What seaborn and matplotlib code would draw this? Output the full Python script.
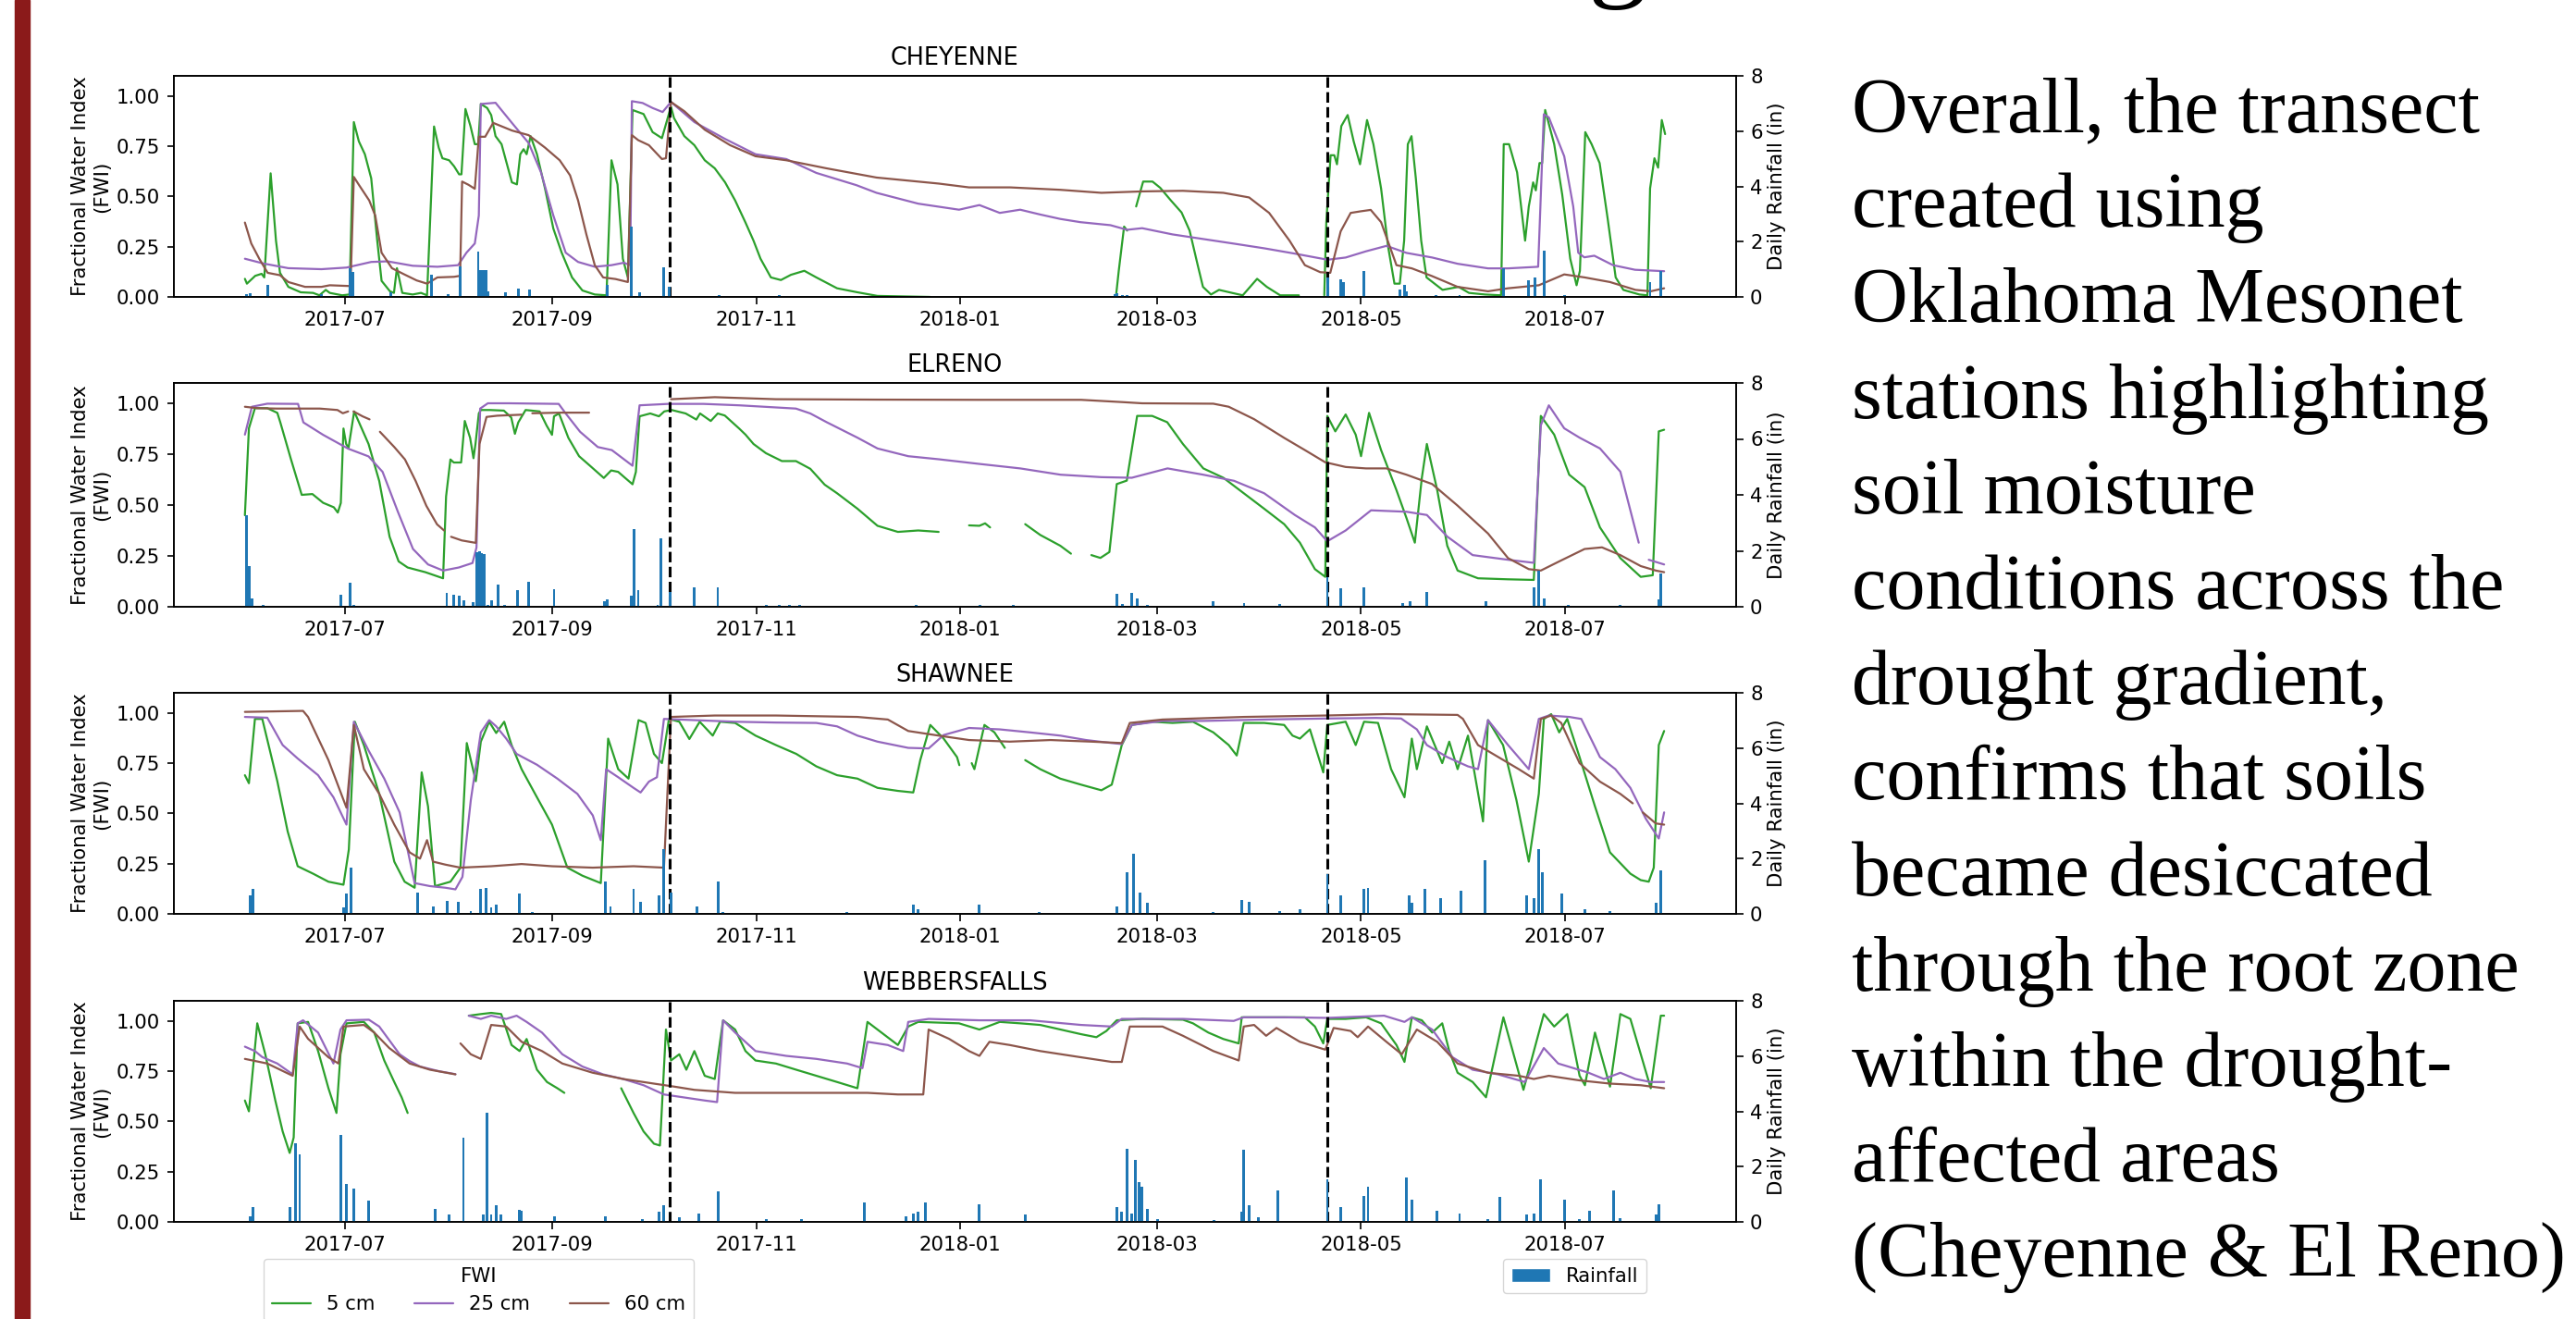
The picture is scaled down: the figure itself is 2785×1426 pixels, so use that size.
# ============================================
# Soil moisture transect - Oklahoma Mesonet
# FWI at 3 depths + daily rainfall, 4 stations
# ============================================

import pandas as pd
import matplotlib
matplotlib.use('Agg')
import matplotlib.pyplot as plt
import matplotlib.dates as mdates
from matplotlib.lines import Line2D
from matplotlib.patches import Patch, Rectangle
from matplotlib.ticker import FormatStrFormatter
import seaborn as sns

# day 0 of every series
START = pd.Timestamp('2017-06-01')

STATIONS = ['CHEYENNE', 'ELRENO', 'SHAWNEE', 'WEBBERSFALLS']
DEPTHS = ['5 cm', '25 cm', '60 cm']
DEPTH_COLORS = ['#2ca02c', '#9467bd', '#8c564b']
RAIN_COLOR = '#1f77b4'
DRY_SPELL = ['2017-10-06', '2018-04-21']

# (day since START, FWI) - None marks a gap in the record
CHEYENNE_5 = [(0, .09), (0.6, .066), (3.1, .105), (5, .115), (5.8, .097), (7.7, .615), (9.3, .28), (10.5, .12),
              (13, .05), (16.7, .023), (20.4, .02), (22.3, .008), (24.2, .035), (25.4, .02), (29.1, .008),
              (31.3, .012), (32.6, .87), (34.1, .774), (35.9, .71), (37.8, .59), (39.6, .28), (40.9, .08),
              (43.4, .028), (44.6, .02), (45.5, .143), (47.1, .02), (50.2, .012), (52.7, .02), (54.5, .008),
              (56.6, .848), (58, .743), (59.1, .69), (61.1, .68), (62.6, .65), (64.1, .61), (64.8, .61),
              (66, .935), (67.5, .85), (68.8, .76), (69.8, .76), (70.6, .96), (72.5, .94), (73.7, .905),
              (75, .80), (76.8, .76), (78.1, .68), (79.9, .57), (81.4, .56), (82.4, .71), (83.4, .735),
              (84.3, .71), (85.5, .80), (87.4, .71), (89.8, .54), (92.3, .34), (94.8, .22), (97.9, .097),
              (101, .032), (104.7, .012), (108.2, .008), (109.7, .68), (111.5, .56), (113.1, .19),
              (114.6, .097), (116, .93), (119.3, .91), (122, .82), (124.8, .79), (127.5, .947), (128.4, .89),
              (131.5, .80), (134.5, .755), (137.6, .68), (140.6, .64), (143.7, .57), (146.7, .48),
              (149.8, .37), (152.2, .28), (154.3, .19), (157.4, .097), (160.4, .084), (163.4, .11),
              (167.4, .13), (171, .097), (177.2, .043), (183.3, .023), (189.3, .005), (205, .0), None,
              (260.7, .008), (261.5, .13), (263.1, .35), (264, .33), None,
              (266.7, .45), (268.8, .574), (271.6, .574), (273.9, .543), (277.1, .48), (280.3, .42),
              (282.7, .33), (285.1, .16), (286.7, .05), (289.1, .012), (291.5, .035), (295.4, .02),
              (298.6, .008), (302.9, .09), (305.8, .05), (309.8, .008), (315.4, .008), None,
              (323, .008), (323.6, .37), (324.9, .705), (326, .705), (326.8, .66), (328.1, .85), (330, .905),
              (331.8, .774), (333.7, .66), (335.8, .88), (337.7, .76), (340, .54), (342.1, .25), (344, .066),
              (345.6, .066), (346.9, .28), (348, .76), (349.1, .80), (350.4, .59), (352, .28), (353.6, .097),
              (356, .066), (358.4, .035), (363.2, .05), (366.3, .02), (371.1, .012), (375.9, .008),
              (376.7, .76), (378.3, .76), (380.7, .62), (383.1, .28), (384.2, .45), (385.5, .57), (386.3, .53),
              (387.4, .666), (388.2, .666), (389.1, .93), (391.8, .76), (394.2, .51), (396.6, .19),
              (398.5, .058), (399.5, .13), (401.1, .82), (403, .76), (405.4, .666), (407.8, .39),
              (410.2, .097), (412.5, .035), (417.3, .012), (419.7, .008), (420.5, .54), (421.8, .69),
              (422.9, .643), (424, .88), (425, .81)]
CHEYENNE_25 = [(0, .19), (5.6, .166), (13, .143), (22.9, .138), (30.4, .146), (37.8, .174), (42.7, .177),
               (50.2, .155), (57.6, .15), (63.8, .158), (66.3, .22), (68.8, .266), (70, .405), (70.6, .96),
               (75, .966), (79.9, .866), (84.9, .766), (88.6, .62), (92.3, .405), (96, .22), (99.7, .174),
               (104.7, .15), (109.7, .158), (113.4, .17), (115.3, .158), (115.8, .974), (119, .965),
               (122, .94), (125, .92), (127.5, .97), (134.5, .87), (143.7, .786), (152.8, .71), (162, .686),
               (171, .617), (183, .556), (189, .518), (201.5, .464), (213.7, .434), (219.8, .457),
               (225.9, .418), (232, .434), (238, .41), (244, .388), (250, .372), (259, .357), (264, .334),
               (268.5, .342), (277.6, .311), (286.8, .288), (296, .265), (305, .242), (314, .216),
               (324, .185), (329.4, .196), (335.5, .227), (341.6, .254), (347.6, .219), (355.3, .196),
               (362.9, .165), (372, .142), (378, .142), (387, .15), (388.7, .909), (390.2, .893),
               (394.8, .70), (397.5, .45), (399, .22), (400.8, .197), (403.8, .205), (409.4, .158),
               (416, .135), (424.7, .128)]
CHEYENNE_60 = [(0, .37), (1.9, .266), (4.3, .19), (6.8, .12), (10.5, .108), (13, .074), (18, .05), (22.9, .05),
               (25.4, .058), (31.6, .054), (32.6, .597), (34.1, .558), (37.2, .48), (39, .405), (40.9, .22),
               (44, .143), (47.7, .112), (51.4, .082), (54.5, .066), (57.6, .097), (62.6, .10), (64.4, .105),
               (65, .574), (66.9, .558), (68.8, .538), (70, .797), (71.9, .797), (74.3, .866), (79.9, .828),
               (84.9, .805), (89.8, .743), (94.2, .68), (97.3, .605), (99.7, .48), (102.2, .31),
               (104.7, .158), (107.2, .097), (110.9, .089), (114.6, .074), (115.8, .805), (117.7, .78),
               (120.9, .755), (124.8, .686), (126, .69), (127.5, .97), (131.5, .924), (137.6, .832),
               (145.2, .755), (152.8, .70), (162, .68), (174, .64), (189, .594), (207.6, .564),
               (216.7, .545), (229, .545), (244, .533), (256.3, .518), (268.5, .525), (280.7, .528),
               (292.8, .518), (300.5, .495), (306.5, .418), (312.6, .28), (317.2, .158), (321.8, .123),
               (324.8, .12), (327.9, .326), (330.9, .418), (333.9, .426), (336.9, .433), (340, .372),
               (344.6, .158), (349.2, .142), (355.2, .104), (362.9, .05), (372, .028), (378, .043),
               (387.2, .058), (394.8, .112), (400.9, .097), (408.5, .074), (416.1, .035), (420.7, .028),
               (424.7, .043)]

ELRENO_5 = [(0, .45), (1.2, .877), (3, .976), (6.7, .976), (9.7, .953), (10.6, .906), (13.8, .724), (17, .55),
            (20.2, .554), (23.4, .511), (26.6, .489), (27.8, .463), (28.7, .51), (29.5, .876), (30.3, .80),
            (31, .78), (32.7, .96), (37, .80), (40.2, .618), (43.3, .344), (46, .223), (48.7, .193), (54, .17),
            (59.3, .14), (60.2, .542), (61.5, .724), (62.5, .709), (64.7, .709), (65.8, .913), (67.4, .83),
            (68.4, .73), (69, .80), (70, .95), (70.6, .967), (73.3, .967), (77.5, .964), (79.7, .93),
            (80.8, .85), (81.8, .906), (84, .967), (88.2, .96), (90.3, .89), (91.9, .845), (92.5, .936),
            (94, .95), (96.8, .83), (100, .74), (103.2, .694), (107.4, .633), (109.6, .67), (111.7, .663),
            (113.8, .633), (116, .602), (117, .663), (118.1, .936), (121.3, .95), (123.9, .936),
            (125.5, .96), (127.7, .967), (131.9, .95), (135.1, .92), (136.2, .95), (139.4, .913),
            (141.5, .95), (143.6, .94), (147.9, .876), (149.8, .846), (152.2, .80), (155.9, .755),
            (160.7, .716), (164.9, .716), (169.2, .678), (173.5, .60), (177.2, .558), (183.3, .482),
            (189.3, .398), (195.4, .368), (201.5, .375), (207.6, .368), None,
            (216.7, .40), (219.8, .398), (221.5, .41), (223, .39), None,
            (233.5, .406), (238, .353), (244, .30), (247.2, .261), None,
            (253.3, .254), (256, .24), (258.7, .269), (260.9, .603), (263.9, .62), (267, .938),
            (271.5, .938), (276, .907), (280.7, .80), (286.8, .68), (292.8, .634), (298.9, .558),
            (305, .482), (311, .406), (315.7, .315), (320.2, .185), (323.3, .147), (323.9, .938),
            (326.3, .862), (329.4, .945), (332.4, .846), (334, .74), (336.4, .953), (340, .77),
            (344.6, .573), (347.6, .436), (350.1, .315), (352.2, .634), (353.7, .80), (356.8, .573),
            (359.8, .30), (362.9, .178), (369, .14), (378, .135), (385.7, .132), (387.8, .938),
            (391.8, .846), (396.3, .649), (400.9, .588), (405.5, .39), (411.6, .239), (417.7, .147),
            (421.3, .155), (423.1, .862), (424.7, .87)]
ELRENO_25 = [(0, .846), (2.1, .983), (6.7, .998), (15.9, .997), (17.5, .906), (23.4, .845), (30.9, .777),
             (37, .739), (41.2, .663), (45.8, .466), (50.3, .284), (54.8, .208), (59.3, .178), (64, .193),
             (68.1, .215), (69.3, .291), (70.4, .974), (72.7, 1.0), (79, 1.0), (93.9, .997), (96, .95),
             (100.3, .86), (105.6, .785), (109.8, .77), (116, .693), (118.1, .99), (126.6, .997),
             (137.2, .997), (147.9, .99), (164.9, .974), (169.2, .95), (174.1, .907), (183.3, .831),
             (189.3, .778), (198.5, .74), (207.6, .725), (219.8, .702), (232, .68), (244.1, .649),
             (256.3, .637), (265.4, .634), (276.1, .68), (286.8, .649), (296, .619), (305, .558),
             (314.2, .451), (320.2, .39), (323.9, .322), (329.4, .375), (337, .474), (347.6, .467),
             (353.7, .451), (359.8, .345), (367.4, .254), (378, .231), (385.7, .216), (387.8, .892),
             (390.2, .99), (394.8, .877), (399.4, .831), (405.5, .778), (411.6, .664), (417.1, .315), None,
             (420.1, .231), (424.7, .208)]
ELRENO_60 = [(0, .983), (3.7, .976), (9.5, .974), (22.4, .974), (27.7, .967), (29.3, .951), (30.9, .96), None,
             (32.5, .96), (35.2, .936), (37.3, .921), None,
             (40.4, .86), (44.7, .785), (47.9, .724), (51.1, .618), (54.3, .496), (57.5, .405), (59.6, .375),
             None, (61.7, .344), (64.9, .326), (69.1, .314), (70.2, .80), (72.3, .933), (75.5, .939),
             (82.8, .944), None, (86, .951), (94.5, .954), (103, .954), None,
             (127.5, 1.02), (140.6, 1.03), (158.9, 1.02), (189.3, 1.018), (219.8, 1.017), (250.2, 1.017),
             (262.4, 1.006), (268.5, 1.0), (289.8, .998), (294.4, .983), (302, .922), (311, .83),
             (317.2, .77), (323.3, .71), (329.4, .687), (335.5, .68), (341.6, .68), (347.6, .649),
             (355.3, .603), (362.9, .497), (372, .36), (378, .239), (384.2, .185), (387.8, .178),
             (393.3, .223), (400.9, .284), (406.1, .292), (411.6, .254), (417.7, .20), (422.2, .178),
             (424.7, .17)]

SHAWNEE_5 = [(0, .69), (1.2, .65), (3, .97), (5.2, .97), (9.7, .66), (12.8, .41), (15.8, .237), (20.4, .20),
             (25, .16), (29.5, .145), (31.1, .32), (32.9, .956), (35.6, .84), (40.2, .597), (44.7, .26),
             (47.8, .16), (50.8, .13), (52.9, .704), (54.8, .535), (56.9, .138), (61.5, .16), (64.5, .23),
             (66.4, .85), (69.1, .66), (70.6, .857), (73.1, .956), (75.2, .90), (77.6, .956), (79.8, .84),
             (82.8, .72), (87.4, .58), (91.9, .444), (96.5, .23), (101, .19), (106.5, .153), (108.7, .872),
             (111.7, .72), (114.8, .673), (117.8, .964), (119.9, .95), (122.4, .796), (124.8, .75),
             (126.9, .97), (130, .956), (133, .87), (136.1, .956), (140, .887), (142.2, .956), (146.7, .95),
             (152.8, .887), (158.9, .84), (165, .796), (171, .734), (177.2, .69), (183.3, .673),
             (189.3, .627), (195.4, .612), (200, .604), (202.1, .765), (205.1, .94), (209.1, .872),
             (213.1, .78), (213.8, .74), None,
             (217.5, .75), (218.3, .72), (221.3, .94), (224.3, .903), (227.4, .826), None,
             (233.5, .765), (238, .72), (244, .673), (250.2, .643), (256.3, .615), (259.4, .643),
             (262.4, .84), (265.4, .94), (271.5, .956), (277.6, .95), (283.7, .956), (289.8, .903),
             (294.4, .84), (296.8, .788), (298.9, .95), (305, .95), (311, .94), (313.5, .887), (315.7, .872),
             (318.7, .918), (322.7, .704), (323.9, .94), (329.4, .956), (332.4, .84), (334.9, .956),
             (339.1, .95), (343, .72), (347, .58), (349.2, .872), (350.7, .72), (353.7, .933), (358.3, .75),
             (360.4, .857), (362.9, .72), (366, .887), (370.5, .46), (372, .964), (376.5, .84),
             (380.5, .566), (384.2, .26), (387.2, .597), (388.7, .97), (390.9, .994), (393.3, .903),
             (395.7, .97), (399.4, .78), (404, .535), (408.5, .306), (414.6, .20), (417.7, .168),
             (420.1, .16), (421.6, .23), (423.1, .84), (424.7, .91)]
SHAWNEE_25 = [(0, .98), (6.7, .976), (11.3, .84), (15.8, .773), (21.9, .69), (26.5, .58), (30.4, .444),
              (32.6, .956), (37.1, .81), (41.7, .673), (46.3, .505), (50.8, .153), (55.4, .138), (60, .13),
              (63, .122), (65.1, .184), (67.6, .566), (70.6, .903), (73.1, .964), (75.2, .933), (78.2, .872),
              (81.3, .796), (87.4, .742), (93.5, .673), (99.5, .597), (104.1, .49), (106.5, .367),
              (108.1, .72), (111.7, .68), (116.3, .627), (118.4, .604), (120.9, .658), (123.3, .68),
              (125.4, .97), (134.5, .964), (146.7, .956), (158.9, .952), (171, .95), (177.2, .933),
              (183.3, .887), (189.3, .857), (198.5, .826), (204.6, .823), (209.1, .89), (216.7, .925),
              (225.9, .918), (235, .903), (244, .887), (251.7, .865), (259.4, .85), (262.4, .845),
              (265.4, .94), (274.6, .96), (286.8, .96), (305, .967), (323.3, .972), (338.5, .975),
              (346, .972), (350.7, .918), (353.7, .84), (359.8, .78), (366, .734), (369, .72), (372, .964),
              (378, .84), (384.2, .72), (387.2, .97), (390.2, .987), (396.3, .98), (399.9, .97),
              (405.5, .78), (410.1, .72), (414.6, .627), (419.2, .474), (423.1, .375), (424.7, .505)]
SHAWNEE_60 = [(0, 1.005), (17.4, 1.01), (18.9, .98), (25, .765), (30.4, .528), (32.6, .94), (35.6, .72),
              (40.2, .597), (44.7, .444), (49.3, .306), (52.4, .275), (54.5, .367), (56.3, .26), (60, .245),
              (64.5, .23), (73.7, .237), (82.8, .248), (91.9, .237), (104.1, .23), (116.3, .237),
              (125.4, .23), (127.5, .98), (140.6, .987), (158.9, .987), (183.3, .98), (192.4, .967),
              (198.5, .91), (207.6, .887), (216.7, .865), (228.9, .857), (241.1, .865), (253.3, .857),
              (262.4, .85), (264.8, .95), (274.6, .967), (298.9, .98), (323.3, .987), (341.6, .994),
              (362.9, .99), (364.5, .97), (369, .84), (375.1, .78), (381.2, .72), (385.7, .673),
              (387.8, .97), (390.9, .987), (393.9, .95), (399.4, .75), (405.5, .658), (411.6, .597),
              (415.3, .55), None, (418.3, .505), (422.2, .45), (424.7, .444)]

WEBBERSFALLS_5 = [(0, .604), (1.2, .55), (3.7, .988), (6.1, .834), (9.1, .604), (11.3, .45), (13.4, .343),
                  (14.6, .42), (15.8, .988), (18.9, .995), (21.9, .85), (25, .665), (27.4, .542), (28.6, .834),
                  (30.4, .988), (35.6, .995), (38.7, .942), (41.7, .803), (44.7, .696), (46.9, .62),
                  (48.7, .542), None,
                  (67, 1.026), (70.6, 1.034), (73.7, 1.04), (76.7, 1.034), (79.8, .88), (82.2, .85),
                  (84.3, .91), (87.4, .757), (90.4, .696), (93.5, .665), (95.6, .642), None,
                  (112.6, .665), (116.3, .542), (119.3, .45), (122.4, .389), (124.2, .38), (126, .957),
                  (127.5, .803), (130, .834), (132.1, .757), (134.5, .85), (137.6, .727), (140.6, .711),
                  (143.1, 1.003), (146.7, .957), (149.8, .85), (152.8, .803), (158.9, .788), (165, .757),
                  (171, .727), (177.2, .696), (183.3, .665), (186.3, .995), (189.3, .957), (195.4, .88),
                  (198.5, .972), (201.5, .995), (213.7, .988), (219.8, .957), (225.9, .995), (232, .988),
                  (238, .98), (244.1, .957), (250.2, .934), (254.8, .919), (257.8, .95), (260.9, 1.003),
                  (268.5, 1.01), (280.7, 1.006), (283.7, .988), (288.3, .942), (292.8, .91), (297.4, .888),
                  (298.3, 1.018), (305, 1.018), (317.2, 1.018), (320.2, .972), (322.7, .888), (323.9, 1.01),
                  (329.4, 1.01), (335.5, 1.018), (340, .988), (344.6, .88), (347, .796), (349.2, 1.018),
                  (352.2, 1.003), (355.3, .942), (358.3, .988), (360.4, .85), (362.9, .742), (367.4, .696),
                  (371.4, .62), (376.6, 1.018), (382.6, .657), (388.7, 1.034), (391.8, .972), (395.7, 1.034),
                  (399.4, .727), (401, .68), (404, .942), (408.5, .673), (411.6, 1.034), (414.6, 1.01),
                  (420.7, .665), (423.7, 1.026), (424.7, 1.026)]
WEBBERSFALLS_25 = [(0, .872), (3, .85), (5.2, .82), (9.7, .788), (14.3, .734), (15.8, .988), (17.4, 1.003),
                   (21.9, .942), (26.5, .788), (28.6, .957), (30.4, 1.003), (37.1, 1.006), (40.2, .972),
                   (46.3, .834), (49.3, .80), (52.4, .773), (58, .75), (63, .735), None,
                   (67, 1.026), (70.6, 1.01), (73.7, 1.026), (78.2, 1.01), (81.3, 1.026), (84.3, .995),
                   (88.9, .942), (95, .834), (101, .773), (107.2, .734), (113.2, .711), (119.3, .68),
                   (125.4, .634), (131.5, .619), (137.6, .604), (141.3, .596), (143.1, 1.003), (146.7, .942),
                   (152.8, .85), (162, .826), (171, .811), (180.2, .788), (184.8, .765), (186.3, .896),
                   (192.4, .88), (197, .85), (198.5, .995), (204.6, 1.01), (219.8, 1.003), (235, 1.003),
                   (250.2, .98), (259.4, .972), (262.4, 1.01), (280.7, 1.01), (295.9, 1.0), (298.9, 1.018),
                   (311, 1.018), (323.9, 1.015), (340.9, 1.026), (347, .995), (349.2, 1.018), (355.3, .957),
                   (361.4, .819), (367.4, .757), (375, .734), (383, .696), (388.7, .865), (393, .788),
                   (396, .773), (402.1, .742), (406.7, .711), (411.6, .742), (416.1, .711), (420.7, .696),
                   (424.7, .696)]
WEBBERSFALLS_60 = [(0, .811), (6.7, .788), (14.3, .727), (16.4, .972), (18.9, .911), (25, .819), (28, .788),
                   (29.5, .972), (35.6, .98), (38.7, .942), (43.2, .865), (49.3, .788), (55.4, .757),
                   (63, .734), None,
                   (64.5, .888), (67.6, .834), (70.6, .811), (73.7, .98), (78.2, .972), (82.8, .896),
                   (88.9, .85), (95, .788), (104.1, .742), (113.2, .711), (122.4, .688), (128.5, .673),
                   (134.5, .657), (146.7, .642), (158.9, .642), (174.1, .642), (186.3, .642), (195.4, .634),
                   (203, .634), (204.6, .957), (210.7, .911), (216.7, .85), (219.8, .826), (222.8, .896),
                   (228.9, .88), (238, .85), (250.2, .819), (259.4, .796), (262.4, .796), (264.8, .972),
                   (274.6, .972), (280.7, .926), (289.8, .85), (297.4, .803), (298.9, .972), (302, .98),
                   (305.6, .926), (308.7, .965), (315.7, .896), (323.3, .857), (325.8, .965), (330.9, .95),
                   (333, .919), (336.1, .972), (341.6, .896), (346.2, .834), (350.7, .957), (356.8, .896),
                   (362.9, .788), (372, .742), (381.2, .727), (385.7, .711), (390.2, .727), (399.4, .704),
                   (408.5, .688), (417.7, .68), (424.7, .665)]

# (day since START, daily rainfall in inches)
CHEYENNE_RAIN = [(0.6, .09), (1.5, .12), (6.8, .42), (23, .09), (31.5, 1.04), (32.3, .9), (43.7, .17),
                 (55.8, .82), (60.7, .11), (64.4, 1.12), (69.8, 1.65), (70.6, .96), (71.4, .96), (72.2, .96),
                 (72.7, .2), (78.1, .17), (81.8, .31), (85.1, .28), (108.4, .42), (115.6, 2.55), (118.1, .17),
                 (125.4, 1.06), (127, .37), (142, .06), (160, .06), (260.3, .11), (261, .14), (262.5, .06),
                 (264, .06), (324.1, .7), (327.8, .62), (328.8, .54), (334.8, .93), (345.6, .26), (346.9, .42),
                 (347.5, .2), (356.5, .06), (363.5, .06), (369, .05), (376.7, 1.04), (384.2, .6), (386, .7),
                 (388.7, 1.66), (395, .06), (420.5, .54), (423.7, .93)]
ELRENO_RAIN = [(0.6, 3.28), (1.2, 1.46), (2.1, .3), (5.5, .08), (28.6, .43), (31.4, .85), (32.5, .05),
               (60.4, .49), (62.5, .44), (64.1, .39), (65.5, .22), (68.4, .16), (69.5, 1.95), (70.3, 1.98),
               (70.9, 1.93), (71.6, 1.9), (72.6, .07), (73.9, .24), (75.7, .8), (77.8, .05), (81.7, .6),
               (84.8, .9), (92.5, .63), (107.6, .19), (108.5, .28), (115.6, .39), (116.5, 2.78), (117.7, .6),
               (123.5, .05), (124.6, 2.45), (127.2, .52), (134.4, .68), (141.5, .68), (156, .05), (160, .05),
               (163, .05), (166, .05), (200.9, .08), (220, .08), (230, .08), (260.9, .46), (262.5, .1),
               (265.4, .49), (267, .3), (270, .08), (289.8, .19), (299, .13), (309.6, .1), (323.9, 1.07),
               (327.9, .65), (334.9, .71), (346.5, .13), (348.6, .19), (353.7, .54), (371.4, .19),
               (385.7, .69), (387.2, 1.29), (388.7, .3), (396, .08), (411.6, .08), (423.1, .27), (423.7, 1.18)]
SHAWNEE_RAIN = [(1.5, .67), (2.4, .89), (29.5, .24), (30.4, .72), (31.7, 1.67), (51.8, .78), (56.3, .28),
                (60.6, .47), (63.9, .42), (67.6, .11), (70.6, .89), (72.1, .95), (73.7, .22), (75.2, .33),
                (82.2, .72), (86, .06), (107.8, 1.17), (109.4, .28), (116.3, .89), (118.4, .42), (123.9, .67),
                (125.4, 2.34), (127.5, .78), (135.2, .28), (141.6, 1.17), (143.1, .06), (180, .06), (200, .33),
                (201.5, .17), (219.8, .33), (237.7, .06), (260.9, .28), (263.9, 1.5), (266, 2.17),
                (267.9, .78), (270, .39), (289.8, .06), (298.3, .5), (300.4, .44), (309.6, .11), (315.7, .17),
                (323.9, 1.45), (327.9, .67), (334.9, .89), (336.1, .95), (348.3, .67), (349.2, .39),
                (353.2, .91), (357.7, .56), (363.8, .83), (371.1, 1.95), (383.6, .67), (385.7, .56),
                (387.2, 2.34), (388.2, 1.5), (394, .72), (401, .17), (408.5, .11), (422.2, .39), (423.7, 1.56)]
WEBBERSFALLS_RAIN = [(1.5, .2), (2.4, .54), (13.4, .54), (15.2, 2.83), (16.4, 2.44), (28.6, 3.16), (30.4, 1.37),
                     (32.6, 1.2), (37.1, .76), (56.9, .48), (61, .28), (65.4, 3.05), (71.3, .28), (72.5, 3.94),
                     (73.7, .28), (75.2, .59), (76.7, .28), (82.2, .42), (82.8, .39), (92.6, .2), (107.8, .2),
                     (119, .09), (123.9, .37), (125.4, .59), (130, .17), (135.8, .31), (141.6, 1.09), (156, .09),
                     (166.5, .09), (185.4, .7), (197.9, .2), (200, .31), (201.5, .37), (203.7, .7), (219.8, .65),
                     (233.5, .28), (260.9, .54), (262.4, .37), (263.9, 2.66), (265.4, .31), (266.4, 2.25),
                     (267.6, 1.43), (268.5, 1.26), (270, .48), (273, .09), (290, .06), (298.3, .37),
                     (298.9, 2.6), (300.4, .59), (303.4, .17), (309, 1.13), (323.9, 1.54), (327.9, .54),
                     (334.9, .93), (336.1, 1.26), (347.6, 1.6), (349.2, .82), (356.8, .39), (363.5, .31),
                     (372, .09), (375.6, .89), (383.6, .28), (385.7, .31), (387.8, 1.54), (394.8, .82),
                     (399.4, .09), (402.4, .39), (409.5, 1.13), (411.6, .15), (422.2, .28), (423.1, .65)]

FWI_SERIES = {
    'CHEYENNE': [CHEYENNE_5, CHEYENNE_25, CHEYENNE_60],
    'ELRENO': [ELRENO_5, ELRENO_25, ELRENO_60],
    'SHAWNEE': [SHAWNEE_5, SHAWNEE_25, SHAWNEE_60],
    'WEBBERSFALLS': [WEBBERSFALLS_5, WEBBERSFALLS_25, WEBBERSFALLS_60],
}
RAIN_SERIES = {
    'CHEYENNE': CHEYENNE_RAIN,
    'ELRENO': ELRENO_RAIN,
    'SHAWNEE': SHAWNEE_RAIN,
    'WEBBERSFALLS': WEBBERSFALLS_RAIN,
}

SIDE_TEXT = ['Overall, the transect', 'created using', 'Oklahoma Mesonet', 'stations highlighting',
             'soil moisture', 'conditions across the', 'drought gradient,', 'confirms that soils',
             'became desiccated', 'through the root zone', 'within the drought-', 'affected areas',
             '(Cheyenne & El Reno)']

W, H = 2785, 1426
FS = 15.3


def fwi_frame(series_list):
    """Long table: date / fwi / depth / segment id (a new segment after each gap)"""
    rows = []
    for depth, points in zip(DEPTHS, series_list):
        seg = 0
        for p in points:
            if p is None:
                seg += 1
                continue
            rows.append((START + pd.Timedelta(days=p[0]), p[1], depth, seg))
    return pd.DataFrame(rows, columns=['date', 'fwi', 'FWI', 'seg'])


def rain_frame(points):
    df = pd.DataFrame(points, columns=['day', 'rain'])
    df['date'] = START + pd.to_timedelta(df['day'], unit='D')
    return df


sns.set_style('ticks', {'axes.edgecolor': 'black', 'xtick.color': 'black', 'ytick.color': 'black',
                        'text.color': 'black', 'axes.labelcolor': 'black'})
plt.rcParams['font.family'] = ['DejaVu Sans']
plt.rcParams['axes.linewidth'] = 1.2
plt.rcParams['xtick.major.size'] = 5.4
plt.rcParams['ytick.major.size'] = 5.4
plt.rcParams['xtick.major.width'] = 1.2
plt.rcParams['ytick.major.width'] = 1.2
plt.rcParams['xtick.major.pad'] = 5.4
plt.rcParams['ytick.major.pad'] = 5.4

fig = plt.figure(figsize=(W / 100, H / 100), dpi=100)
fig.patch.set_facecolor('white')

# dark red bar on the left edge of the slide
fig.add_artist(Rectangle((16 / W, 0), 16 / W, 1, transform=fig.transFigure,
                         color='#8B1A1A', zorder=0))

# panel boxes in pixels: (top, bottom)
panel_px = [(82, 321), (414, 656), (749, 988), (1082, 1321)]
left, right = 188, 1877

palette = dict(zip(DEPTHS, DEPTH_COLORS))
xmin = START + pd.Timedelta(days=-21.25)
xmax = START + pd.Timedelta(days=446.25)

for station, (top, bot) in zip(STATIONS, panel_px):
    ax = fig.add_axes([left / W, 1 - bot / H, (right - left) / W, (bot - top) / H])
    df = fwi_frame(FWI_SERIES[station])
    sns.lineplot(data=df, x='date', y='fwi', hue='FWI', hue_order=DEPTHS, palette=palette,
                 units='seg', estimator=None, linewidth=1.6, legend=False, ax=ax)

    for d in DRY_SPELL:
        ax.axvline(pd.Timestamp(d), color='black', linestyle='--', linewidth=2.2, zorder=5)

    ax.set_xlim(xmin, xmax)
    ax.set_ylim(0, 1.1)
    ax.set_yticks([0, 0.25, 0.5, 0.75, 1.0])
    ax.yaxis.set_major_formatter(FormatStrFormatter('%.2f'))
    ax.xaxis.set_major_locator(mdates.MonthLocator(bymonth=[1, 3, 5, 7, 9, 11]))
    ax.xaxis.set_major_formatter(mdates.DateFormatter('%Y-%m'))
    ax.tick_params(labelsize=FS)
    ax.set_xlabel('')
    ax.set_ylabel('Fractional Water Index\n(FWI)', fontsize=FS)
    ax.set_title(station, fontsize=FS * 1.2, pad=9)

    ax2 = ax.twinx()
    rdf = rain_frame(RAIN_SERIES[station])
    ax2.bar(rdf['date'], rdf['rain'], width=0.8, color=RAIN_COLOR, linewidth=0)
    ax2.set_ylim(0, 8)
    ax2.set_yticks([0, 2, 4, 6, 8])
    ax2.tick_params(labelsize=FS)
    ax2.set_ylabel('Daily Rainfall (in)', fontsize=FS)
    ax2.set_xlim(xmin, xmax)

# legends under the last panel (partly clipped by the slide edge)
fwi_handles = [Line2D([], [], color=c, linewidth=1.6) for c in DEPTH_COLORS]
fig.legend(fwi_handles, DEPTHS, title='FWI', ncol=3, loc='upper left',
           bbox_to_anchor=(285 / W, 1 - 1361 / H), borderaxespad=0,
           fontsize=FS, title_fontsize=FS)
fig.legend([Patch(facecolor=RAIN_COLOR)], ['Rainfall'], loc='upper left',
           bbox_to_anchor=(1625 / W, 1 - 1361 / H), borderaxespad=0, fontsize=FS)

# slide text on the right
for i, line in enumerate(SIDE_TEXT):
    fig.text(2002 / W, 1 - (142 + 103.2 * i) / H, line, fontsize=60.5,
             family=['Liberation Serif', 'DejaVu Serif'], va='baseline', ha='left')

# bottom of the slide title peeking in at the top edge
fig.text(1717 / W, 1 + 16 / H, 'g', fontsize=92, family=['Liberation Serif', 'DejaVu Serif'],
         va='baseline', ha='left')

fig.savefig('out.png', dpi=100)
plt.close(fig)
print('Saved out.png')
